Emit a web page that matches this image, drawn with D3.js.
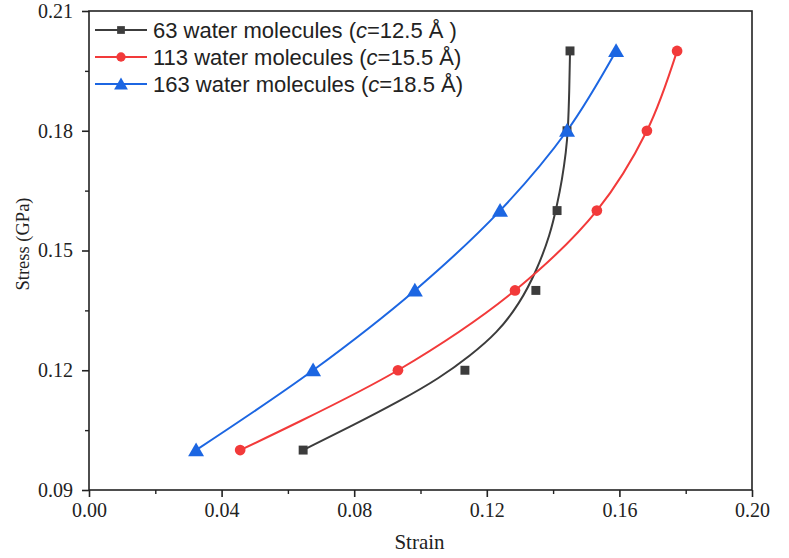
<!DOCTYPE html>
<html><head><meta charset="utf-8">
<script src="https://cdn.jsdelivr.net/npm/d3@7"></script>
<style>
html,body{margin:0;padding:0;background:#fff;}
svg{display:block;}
</style></head>
<body>
<svg id="chart" width="789" height="558"></svg>
<script>
// ---- data ----
const strainTicks = [0.00, 0.04, 0.08, 0.12, 0.16, 0.20];
const strainMinor = [0.02, 0.06, 0.10, 0.14, 0.18];
const stressTicks = [0.09, 0.12, 0.15, 0.18, 0.21];
const stressMinor = [0.105, 0.135, 0.165, 0.195];

const stress = [0.10, 0.12, 0.14, 0.16, 0.18, 0.20];
const strain63  = [0.0646, 0.1134, 0.1348, 0.1412, 0.1442, 0.1451];
const strain113 = [0.0456, 0.0932, 0.1285, 0.1532, 0.1683, 0.1774];
const strain163 = [0.0323, 0.0676, 0.0983, 0.1240, 0.1442, 0.1590];

// fitted curve for the 63-molecule series (does not pass through the points)
const fit63Strain = [0.0646,0.0787,0.0938,0.1059,0.1149,0.1231,0.1300,0.1351,0.1391,0.1412,0.1427,0.1439,0.1445,0.1449,0.1451];
const fit63Stress = [0.1000,0.1058,0.1123,0.1181,0.1236,0.1293,0.1368,0.1451,0.1539,0.1614,0.1677,0.1747,0.1802,0.1902,0.1997];

const seriesNames = ["63 water molecules", "113 water molecules", "163 water molecules"];
const seriesC = ["12.5 Å )", "15.5 Å)", "18.5 Å)"];

// ---- layout ----
const svg = d3.select("#chart");
const L = 89, R = 752, T = 11, B = 490;
const x = d3.scaleLinear().domain([0, 0.20]).range([L, R]);
const y = d3.scaleLinear().domain([0.09, 0.21]).range([B, T]);

const colors = ["#3c3c3c", "#f23a3a", "#1c66e2"];
const shapes = [d3.symbolSquare, d3.symbolCircle, d3.symbolTriangle];
const sizes = [80, 90, 110];

const serif = "'Liberation Serif','Times New Roman',serif";
const sans = "'Liberation Sans',Arial,sans-serif";
const axisColor = "#222";

// frame
svg.append("rect").attr("x", L).attr("y", T).attr("width", R - L).attr("height", B - T)
  .attr("fill", "none").attr("stroke", axisColor).attr("stroke-width", 1.6);

// x axis
const xAxis = d3.axisBottom(x).tickValues(strainTicks).tickFormat(d3.format(".2f"))
  .tickSize(7).tickPadding(6);
const gx = svg.append("g").attr("transform", `translate(0,${B})`).call(xAxis);
gx.select(".domain").remove();
gx.selectAll("line").attr("stroke", axisColor).attr("stroke-width", 1.6);
gx.selectAll("text").attr("font-family", serif).attr("font-size", 20).attr("fill", "#222");
const xMinor = d3.axisBottom(x).tickValues(strainMinor).tickFormat("").tickSize(4);
const gxm = svg.append("g").attr("transform", `translate(0,${B})`).call(xMinor);
gxm.select(".domain").remove();
gxm.selectAll("line").attr("stroke", axisColor).attr("stroke-width", 1.4);

// y axis
const yAxis = d3.axisLeft(y).tickValues(stressTicks).tickFormat(d3.format(".2f"))
  .tickSize(7).tickPadding(9);
const gy = svg.append("g").attr("transform", `translate(${L},0)`).call(yAxis);
gy.select(".domain").remove();
gy.selectAll("line").attr("stroke", axisColor).attr("stroke-width", 1.6);
gy.selectAll("text").attr("font-family", serif).attr("font-size", 20).attr("fill", "#222");
const yMinor = d3.axisLeft(y).tickValues(stressMinor).tickFormat("").tickSize(4);
const gym = svg.append("g").attr("transform", `translate(${L},0)`).call(yMinor);
gym.select(".domain").remove();
gym.selectAll("line").attr("stroke", axisColor).attr("stroke-width", 1.4);

// axis titles
svg.append("text").attr("x", (L + R) / 2 - 1).attr("y", 549).attr("text-anchor", "middle")
  .attr("font-family", serif).attr("font-size", 21).attr("fill", "#222").text("Strain");
svg.append("text").attr("transform", "translate(29,244) rotate(-90)").attr("text-anchor", "middle")
  .attr("font-family", serif).attr("font-size", 18.5).attr("fill", "#222").text("Stress (GPa)");

// curves
const fitLine = d3.line().x(d => x(d[0])).y(d => y(d[1])).curve(d3.curveBasis);
const line = d3.line().x(d => x(d[0])).y(d => y(d[1])).curve(d3.curveCatmullRom.alpha(0.5));
const fits = [
  fit63Strain.map((s, i) => [s, fit63Stress[i]]),
  strain113.map((s, i) => [s, stress[i]]),
  strain163.map((s, i) => [s, stress[i]])
];
const pts = [
  strain63.map((s, i) => [s, stress[i]]),
  strain113.map((s, i) => [s, stress[i]]),
  strain163.map((s, i) => [s, stress[i]])
];
fits.forEach((f, k) => {
  svg.append("path").attr("d", (k === 0 ? fitLine : line)(f)).attr("fill", "none")
    .attr("stroke", colors[k]).attr("stroke-width", 2);
});
pts.forEach((p, k) => {
  svg.append("g").selectAll("path").data(p).join("path")
    .attr("transform", d => `translate(${x(d[0])},${y(d[1]) + (k === 2 ? 1.5 : 0)})`)
    .attr("d", d3.symbol().type(shapes[k]).size(sizes[k]))
    .attr("fill", colors[k]);
});

// legend
const leg = svg.append("g");
seriesNames.forEach((name, k) => {
  const cy = 30 + k * 27;
  leg.append("line").attr("x1", 95).attr("x2", 147).attr("y1", cy).attr("y2", cy)
    .attr("stroke", colors[k]).attr("stroke-width", 2);
  leg.append("path").attr("transform", `translate(121,${cy + (k === 2 ? 1.5 : 0)})`)
    .attr("d", d3.symbol().type(shapes[k]).size(sizes[k] * 0.75)).attr("fill", colors[k]);
  const t = leg.append("text").attr("x", 153).attr("y", cy + 7.5)
    .attr("font-family", sans).attr("font-size", 22).attr("fill", "#222");
  t.append("tspan").text(name + " (");
  t.append("tspan").attr("font-style", "italic").text("c");
  t.append("tspan").text("=" + seriesC[k]);
});
</script>
</body></html>
